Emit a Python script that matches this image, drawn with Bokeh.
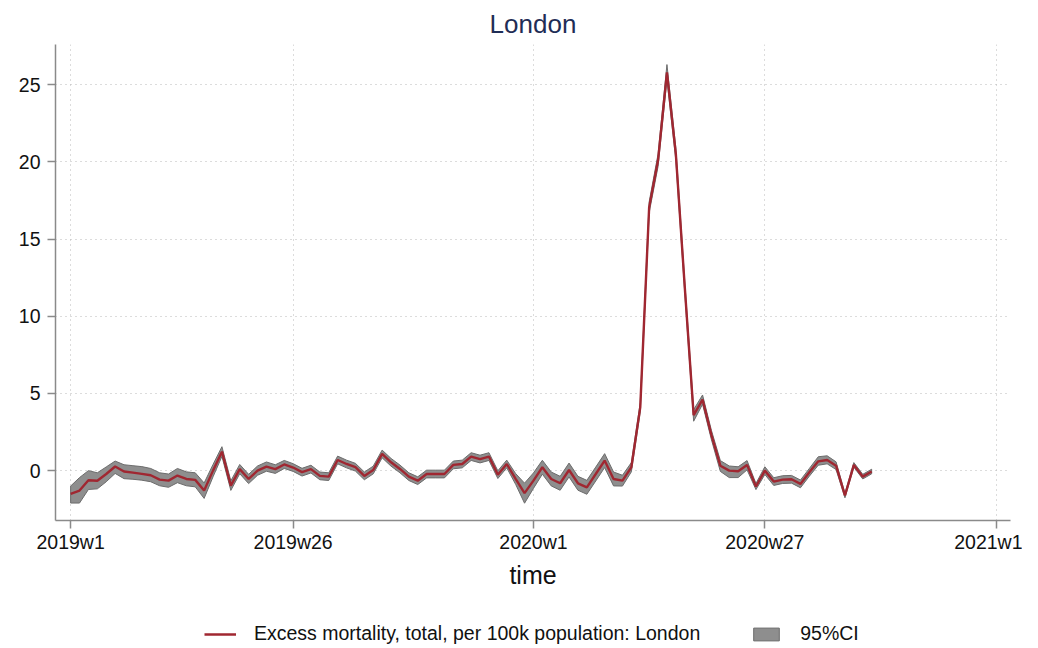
from bokeh.plotting import figure
from bokeh.models import Range1d, FixedTicker, Legend, LegendItem, Title
from bokeh.layouts import column
from bokeh.embed import file_html
from bokeh.resources import INLINE

# week index (0 = 2019w1, Stata 52-week years)
weeks = list(range(91))

excess = [
    -1.50, -1.29, -0.62, -0.66, -0.22, 0.27, -0.06, -0.13, -0.21, -0.30,
    -0.58, -0.65, -0.32, -0.54, -0.60, -1.29, 0.00, 1.23, -0.97, 0.10,
    -0.54, 0.00, 0.26, 0.10, 0.40, 0.20, -0.10, 0.10, -0.34, -0.39,
    0.69, 0.43, 0.22, -0.34, 0.04, 1.08, 0.54, 0.11, -0.39, -0.65,
    -0.22, -0.22, -0.22, 0.37, 0.43, 0.91, 0.75, 0.91, -0.26, 0.43,
    -0.54, -1.46, -0.65, 0.22, -0.54, -0.82, 0.04, -0.82, -1.08, -0.22,
    0.65, -0.54, -0.65, 0.22, 4.10, 17.05, 20.10, 25.80, 20.50, 11.90,
    3.60, 4.60, 2.30, 0.32, 0.00, -0.04, 0.37, -1.03, 0.00, -0.71,
    -0.58, -0.56, -0.86, -0.11, 0.60, 0.69, 0.32, -1.61, 0.37, -0.39,
    -0.06,
]

ci_low = [
    -2.10, -2.10, -1.22, -1.18, -0.72, -0.18, -0.52, -0.56, -0.62, -0.72,
    -0.98, -1.08, -0.78, -0.98, -1.05, -1.80, -0.40, 0.92, -1.28, -0.20,
    -0.84, -0.30, -0.04, -0.18, 0.14, -0.05, -0.35, -0.15, -0.59, -0.64,
    0.44, 0.18, -0.03, -0.59, -0.21, 0.83, 0.29, -0.14, -0.64, -0.90,
    -0.47, -0.47, -0.47, 0.12, 0.18, 0.66, 0.50, 0.66, -0.51, 0.18,
    -0.89, -2.11, -1.15, -0.23, -0.99, -1.27, -0.41, -1.27, -1.53, -0.67,
    0.20, -0.99, -1.00, -0.08, 3.80, 16.70, 19.70, 25.30, 20.10, 11.55,
    3.20, 4.30, 2.00, -0.05, -0.45, -0.45, 0.05, -1.23, -0.25, -0.96,
    -0.83, -0.81, -1.11, -0.36, 0.35, 0.44, 0.07, -1.76, 0.22, -0.54,
    -0.21,
]

ci_high = [
    -1.00, -0.45, 0.00, -0.14, 0.24, 0.62, 0.38, 0.32, 0.26, 0.14,
    -0.14, -0.22, 0.14, -0.08, -0.14, -0.80, 0.40, 1.55, -0.66, 0.40,
    -0.24, 0.30, 0.56, 0.38, 0.66, 0.45, 0.15, 0.35, -0.09, -0.14,
    0.94, 0.68, 0.47, -0.09, 0.29, 1.33, 0.79, 0.36, -0.14, -0.40,
    0.03, 0.03, 0.03, 0.62, 0.68, 1.16, 1.00, 1.16, -0.01, 0.68,
    -0.19, -0.81, -0.15, 0.67, -0.09, -0.37, 0.49, -0.37, -0.63, 0.23,
    1.10, -0.09, -0.30, 0.52, 4.40, 17.40, 20.50, 26.30, 20.90, 12.25,
    3.95, 4.90, 2.60, 0.65, 0.30, 0.25, 0.65, -0.83, 0.25, -0.46,
    -0.33, -0.31, -0.61, 0.14, 0.90, 0.96, 0.57, -1.46, 0.52, -0.24,
    0.09,
]

tick_weeks = [0, 25, 52, 78, 104]
tick_labels = ["2019w1", "2019w26", "2020w1", "2020w27", "2021w1"]
y_ticks = [0, 5, 10, 15, 20, 25]
series_label = "Excess mortality, total, per 100k population: London"
ci_label = "95%CI"

FONT = "Liberation Sans"
LINE_COLOR = "#a02731"
BAND_FILL = "#8e8e8e"
BAND_LINE = "#6c6c6c"

p = figure(
    width=1022, height=616,
    output_backend="svg", toolbar_location=None,
    x_range=Range1d(-1.7, 105.6), y_range=Range1d(-3.23, 27.6),
    min_border_left=55, min_border_right=12,
    min_border_top=43, min_border_bottom=96,
)
p.outline_line_color = None
p.background_fill_color = "white"
p.border_fill_color = "white"

title = Title(text="London", align="center", text_font=FONT,
              text_font_size="26px", text_font_style="normal",
              text_color="#1f2d56", standoff=12)
p.add_layout(title, "above")

# CI band polygon
band_x = weeks + weeks[::-1]
band_y = ci_high + ci_low[::-1]
band = p.patch(band_x, band_y, fill_color=BAND_FILL, fill_alpha=1.0,
               line_color=BAND_LINE, line_width=1)
line = p.line(weeks, excess, line_color=LINE_COLOR, line_width=2.4)

# axes
for ax in (p.xaxis[0], p.yaxis[0]):
    ax.axis_line_color = "#8a8a8a"
    ax.axis_line_width = 1.5
    ax.major_tick_line_color = "#8a8a8a"
    ax.major_tick_line_width = 1.5
    ax.major_tick_in = 0
    ax.major_tick_out = 8
    ax.minor_tick_line_color = None
    ax.major_label_text_font = FONT
    ax.major_label_text_font_size = "19.5px"
    ax.major_label_text_color = "#111111"

p.xaxis.ticker = FixedTicker(ticks=tick_weeks)
p.xaxis.major_label_overrides = {w: l for w, l in zip(tick_weeks, tick_labels)}
p.xaxis.major_label_standoff = 2
p.xaxis.axis_label = "time"
p.xaxis.axis_label_text_font = FONT
p.xaxis.axis_label_text_font_size = "25px"
p.xaxis.axis_label_text_font_style = "normal"
p.xaxis.axis_label_text_color = "#111111"
p.xaxis.axis_label_standoff = 5

p.yaxis.ticker = FixedTicker(ticks=y_ticks)
p.yaxis.major_label_standoff = 7
p.yaxis.major_label_orientation = "horizontal"

for g in (p.xgrid[0], p.ygrid[0]):
    g.grid_line_color = "#b8b8b8"
    g.grid_line_dash = "1 4"
    g.grid_line_width = 1
p.xgrid.ticker = FixedTicker(ticks=tick_weeks)
p.ygrid.ticker = FixedTicker(ticks=y_ticks)

# legend strip below the chart (same series, drawn out of view; only the legend shows)
q = figure(
    width=1022, height=30,
    output_backend="svg", toolbar_location=None,
    x_range=Range1d(1000, 1001), y_range=Range1d(1000, 1001),
    x_axis_location=None, y_axis_location=None,
    min_border=0, min_border_left=0, min_border_right=0,
    min_border_top=0, min_border_bottom=0,
)
q.outline_line_color = None
q.grid.visible = False
lg_band = q.patch(band_x, band_y, fill_color=BAND_FILL, line_color=BAND_LINE, line_width=1)
lg_line = q.line(weeks, excess, line_color=LINE_COLOR, line_width=2.4)

legend = Legend(
    items=[
        LegendItem(label=series_label, renderers=[lg_line]),
        LegendItem(label=ci_label, renderers=[lg_band]),
    ],
    orientation="horizontal", location=(149, 1),
    border_line_color=None, background_fill_alpha=0,
    label_text_font=FONT, label_text_font_size="19.5px", label_text_color="#111111",
    glyph_width=32, glyph_height=16, spacing=50, label_standoff=18,
    margin=0, padding=0,
)
q.add_layout(legend, "center")

layout = column(p, q, spacing=0)
open("out.html", "w").write(file_html(layout, INLINE))
